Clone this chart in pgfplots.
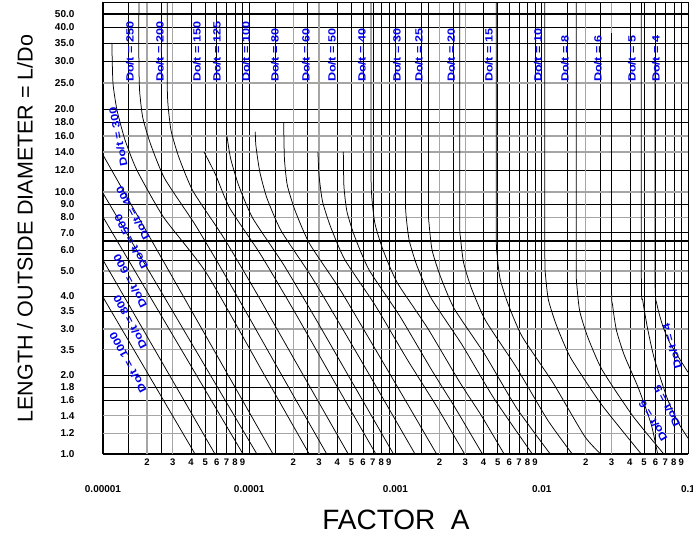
\documentclass[border=0pt]{standalone}
\usepackage{pgfplots}
\pgfplotsset{compat=1.18}
\usepackage{fontspec}
\setmainfont{Liberation Sans}
\newfontfamily\lblfont[FakeStretch=1.2]{Liberation Sans}
\definecolor{lblue}{RGB}{0,0,235}
\definecolor{ggray}{RGB}{165,165,165}
\newcommand{\dl}[1]{\raisebox{-27pt}{\fontsize{10}{11}\selectfont #1}}
\tikzset{lbl/.style={text=lblue, font=\lblfont\fontsize{10.5}{11}\selectfont\bfseries, inner sep=0pt}}
\begin{document}
\begin{tikzpicture}
\begin{axis}[
  scale only axis, width=585pt, height=451pt,
  xmode=log, xmin=1e-5, xmax=0.1,
  ymin=1, ymax=60.4,
  y coord trafo/.code={\pgfmathparse{ifthenelse(#1<=10,262*log10(#1),ifthenelse(#1<=40,262+274*(log10(#1)-1),427+134*(log10(#1)-1.60206)))}},
  y coord inv trafo/.code={\pgfmathparse{ifthenelse(#1<=262,10^(#1/262),ifthenelse(#1<=427,10^(1+(#1-262)/274),10^(1.60206+(#1-427)/134)))}},
  /pgf/number format/assume math mode=true,
  axis line style={line width=1pt},
  major tick length=0pt, minor tick length=0pt,
  grid=both,
  major grid style={black, line width=0.6pt},
  minor grid style={black, line width=0.6pt},
  xtick={1e-5,2e-5,3e-5,4e-5,5e-5,6e-5,7e-5,8e-5,9e-5,1e-4,2e-4,3e-4,4e-4,5e-4,6e-4,7e-4,8e-4,9e-4,1e-3,2e-3,3e-3,4e-3,5e-3,6e-3,7e-3,8e-3,9e-3,1e-2,2e-2,3e-2,4e-2,5e-2,6e-2,7e-2,8e-2,9e-2,1e-1},
  xticklabels={\dl{0.00001},2,3,4,5,6,7,8,9,\dl{0.0001},2,3,4,5,6,7,8,9,\dl{0.001},2,3,4,5,6,7,8,9,\dl{0.01},2,3,4,5,6,7,8,9,\dl{0.1}},
  minor xtick={1.5e-5,2.5e-5,1.5e-4,2.5e-4,1.5e-3,2.5e-3,1.5e-2,2.5e-2},
  extra x ticks={2e-5,3e-5,2e-4,3e-4,2e-3,3e-3,2e-2,3e-2},
  extra x tick labels={},
  extra x tick style={grid=major, major grid style={ggray, line width=1.3pt}},
  xticklabel style={font=\fontsize{9.5}{10}\selectfont\bfseries, text height=7pt, text depth=0pt, inner sep=1pt, yshift=-3pt},
  ytick={1,1.6,1.8,2,3.5,4,6,7,9,12,18,20,30,35,40,50},
  yticklabels={1.0,1.6,1.8,2.0,3.5,4.0,6.0,7.0,9.0,12.0,18.0,20.0,30.0,35.0,40.0,50.0},
  minor ytick={4.5,5.5,6.5},
  extra y ticks={1.2,1.4,2.5,3,5,8,10,14,16,25},
  extra y tick labels={1.2,1.4,3.5,3.0,5.0,8.0,10.0,14.0,16.0,25.0},
  extra y tick style={grid=major, major grid style={ggray, line width=1.3pt}},
  yticklabel style={font=\fontsize{10}{11}\selectfont\bfseries, anchor=east, xshift=-25pt},
  xlabel={FACTOR\ \ A},
  xlabel style={at={(axis description cs:0.5009,-0.1463)}, anchor=center, font=\fontsize{28}{30}\selectfont},
  ylabel={LENGTH / OUTSIDE DIAMETER = L/Do},
  ylabel style={at={(axis description cs:-0.1333,0.5)}, anchor=center, rotate=0, font=\fontsize{21.5}{24}\selectfont},
  cycle list={{black,solid}},
  every axis plot post/.append style={black, solid, line width=0.75pt, no marks, smooth, tension=0.35},
]
\coordinate (SW) at (rel axis cs:0,0);
\coordinate (NE) at (rel axis cs:1,1);
% thick grid lines
\draw[line width=1.2pt] (axis cs:1e-5,50) -- (axis cs:0.1,50);
\draw[line width=1.2pt] (axis cs:1e-5,7) -- (axis cs:0.1,7);
\draw[line width=1.2pt] (axis cs:1e-5,6.5) -- (axis cs:0.1,6.5);
\draw[line width=1.2pt] (axis cs:1e-5,3.5) -- (axis cs:0.1,3.5);
\draw[line width=1.2pt] (axis cs:1e-5,2) -- (axis cs:0.1,2);
% curves Do/t
\addplot coordinates {(1e-5,3.97) (4.26e-5,1)};
\addplot coordinates {(1e-5,5.5) (5.83e-5,1)};
\addplot coordinates {(1e-5,8.03) (9.06e-5,1)};
\addplot coordinates {(1e-5,9.9) (1.128e-4,1)};
\addplot coordinates {(1e-5,13.65) (1.453e-4,1)};
\addplot coordinates {(1.15e-5,35) (1.17e-5,25) (1.247e-5,19.9) (1.414e-5,15.5) (1.707e-5,12) (2.6e-5,8) (5.1e-5,4.9) (1.27e-4,2) (2.57e-4,1)};
\addplot coordinates {(1.76e-5,60.4) (1.76e-5,30) (1.78e-5,23.4) (1.87e-5,18.7) (2.11e-5,15.0) (2.64e-5,11.2) (4.28e-5,7.48) (7.04e-5,4.68) (1.668e-4,2) (3.39e-4,1)};
\addplot coordinates {(2.75e-5,60.4) (2.75e-5,25) (2.78e-5,20.95) (2.92e-5,16.76) (3.30e-5,13.4) (4.13e-5,10.06) (6.68e-5,6.70) (1.10e-4,4.19) (2.34e-4,2) (4.75e-4,1)};
\addplot coordinates {(4.91e-5,14) (5.87e-5,11.6) (7.34e-5,8.7) (1.19e-4,5.8) (1.96e-4,3.63) (3.6e-4,2) (7.34e-4,1)};
\addplot coordinates {(7.04e-5,16) (7.46e-5,13.25) (8.45e-5,10.6) (1.056e-4,7.95) (1.71e-4,5.3) (2.82e-4,3.31) (4.74e-4,2) (9.69e-4,1)};
\addplot coordinates {(1.1e-4,16.6) (1.11e-4,14.8) (1.18e-4,11.86) (1.32e-4,9.49) (1.65e-4,7.12) (2.67e-4,4.74) (4.4e-4,2.97) (6.65e-4,2) (1.36e-3,1)};
\addplot coordinates {(1.72e-4,18) (1.74e-4,13.25) (1.82e-4,10.6) (2.06e-4,8.48) (2.58e-4,6.36) (4.18e-4,4.24) (6.88e-4,2.65) (1.17e-3,1.6) (1.91e-3,1)};
\addplot coordinates {(2.95e-4,14) (3.0e-4,11.5) (3.17e-4,9.2) (3.6e-4,7.36) (4.5e-4,5.52) (7.3e-4,3.68) (1.2e-3,2.3) (1.94e-3,1.5) (2.97e-3,1)};
\addplot coordinates {(4.4e-4,14) (4.44e-4,10.5) (4.66e-4,8.4) (5.28e-4,6.72) (6.6e-4,5.04) (1.07e-3,3.36) (1.76e-3,2.1) (2.56e-3,1.5) (3.93e-3,1)};
\addplot coordinates {(6.8e-4,60.4) (6.8e-4,12) (6.9e-4,9.43) (7.25e-4,7.54) (8.2e-4,6.03) (1.025e-3,4.52) (1.66e-3,3.02) (2.74e-3,1.885) (3.87e-3,1.4) (5.53e-3,1)};
\addplot coordinates {(1.17e-3,60.4) (1.17e-3,10) (1.18e-3,8.19) (1.24e-3,6.55) (1.40e-3,5.24) (1.755e-3,3.93) (2.84e-3,2.62) (4.68e-3,1.64) (8.62e-3,1)};
\addplot coordinates {(1.68e-3,60.4) (1.68e-3,9) (1.70e-3,7.49) (1.78e-3,5.99) (2.02e-3,4.79) (2.52e-3,3.59) (4.08e-3,2.40) (6.72e-3,1.50) (1.143e-2,1)};
\addplot coordinates {(2.75e-3,60.4) (2.75e-3,8) (2.78e-3,6.73) (2.92e-3,5.38) (3.30e-3,4.30) (4.13e-3,3.23) (6.68e-3,2.15) (1.10e-2,1.345) (1.616e-2,1)};
\addplot coordinates {(4.89e-3,60.4) (4.89e-3,7) (4.94e-3,5.86) (5.18e-3,4.69) (5.87e-3,3.75) (7.34e-3,2.81) (1.19e-2,1.876) (1.96e-2,1.17) (2.532e-2,1)};
\addplot coordinates {(1.05e-2,60.4) (1.05e-2,6) (1.06e-2,4.85) (1.11e-2,3.88) (1.26e-2,3.10) (1.575e-2,2.33) (2.55e-2,1.55) (4.79e-2,1)};
\addplot coordinates {(1.72e-2,60.4) (1.72e-2,5.5) (1.74e-2,4.375) (1.82e-2,3.5) (2.06e-2,2.8) (2.58e-2,2.1) (4.18e-2,1.4) (6.83e-2,1)};
\addplot coordinates {(3.0e-2,38) (3.0e-2,4.5) (3.05e-2,3.71) (3.24e-2,2.97) (3.67e-2,2.38) (4.59e-2,1.78) (5.6e-2,1.3) (6.2e-2,1)};
\addplot coordinates {(4.8e-2,60.4) (4.8e-2,4.6) (4.9e-2,3.87) (5.3e-2,3.0) (5.9e-2,2.3) (7.3e-2,1.6) (8.7e-2,1.3) (1.0e-1,1.15)};
\addplot coordinates {(5.95e-2,31) (5.95e-2,4.6) (6.15e-2,3.7) (6.7e-2,3.1) (7.53e-2,2.65) (1.0e-1,2.05)};
% labels
\node[lbl, rotate=90, anchor=west] at (axis cs:1.53e-5,25.2) {Do/t = 250};
\node[lbl, rotate=90, anchor=west] at (axis cs:2.45e-5,25.2) {Do/t = 200};
\node[lbl, rotate=90, anchor=west] at (axis cs:4.39e-5,25.2) {Do/t = 150};
\node[lbl, rotate=90, anchor=west] at (axis cs:6.02e-5,25.2) {Do/t = 125};
\node[lbl, rotate=90, anchor=west] at (axis cs:9.5e-5,25.2) {Do/t = 100};
\node[lbl, rotate=90, anchor=west] at (axis cs:1.5e-4,25.2) {Do/t = 80};
\node[lbl, rotate=90, anchor=west] at (axis cs:2.44e-4,25.2) {Do/t = 60};
\node[lbl, rotate=90, anchor=west] at (axis cs:3.68e-4,25.2) {Do/t = 50};
\node[lbl, rotate=90, anchor=west] at (axis cs:5.9e-4,25.2) {Do/t = 40};
\node[lbl, rotate=90, anchor=west] at (axis cs:1.024e-3,25.2) {Do/t = 30};
\node[lbl, rotate=90, anchor=west] at (axis cs:1.448e-3,25.2) {Do/t = 25};
\node[lbl, rotate=90, anchor=west] at (axis cs:2.4e-3,25.2) {Do/t = 20};
\node[lbl, rotate=90, anchor=west] at (axis cs:4.36e-3,25.2) {Do/t = 15};
\node[lbl, rotate=90, anchor=west] at (axis cs:9.43e-3,25.2) {Do/t = 10};
\node[lbl, rotate=90, anchor=west] at (axis cs:1.44e-2,25.2) {Do/t = 8};
\node[lbl, rotate=90, anchor=west] at (axis cs:2.42e-2,25.2) {Do/t = 6};
\node[lbl, rotate=90, anchor=west] at (axis cs:4.14e-2,25.2) {Do/t = 5};
\node[lbl, rotate=90, anchor=west] at (axis cs:6.04e-2,25.2) {Do/t = 4};
\node[lbl, rotate=101] at (axis cs:1.27e-5,15.9) {Do/t = 300};
\node[lbl, rotate=118] at (axis cs:1.6e-5,8.31) {Do/t = 400};
\node[lbl, rotate=118] at (axis cs:1.555e-5,6.45) {Do/t = 500};
\node[lbl, rotate=118] at (axis cs:1.53e-5,4.57) {Do/t = 600};
\node[lbl, rotate=118] at (axis cs:1.53e-5,3.19) {Do/t = 800};
\node[lbl, rotate=118] at (axis cs:1.48e-5,2.24) {Do/t = 1000};
\node[lbl, rotate=106] at (axis cs:0.0777,2.58) {Do/t = 4};
\node[lbl, rotate=117] at (axis cs:0.0719,1.525) {Do/t = 5};
\node[lbl, rotate=121] at (axis cs:0.0576,1.336) {Do/t = 6};
\end{axis}
\pgfresetboundingbox
\path ([xshift=-103pt,yshift=-81pt]SW) rectangle ([xshift=5pt,yshift=3pt]NE);
\end{tikzpicture}
\end{document}
